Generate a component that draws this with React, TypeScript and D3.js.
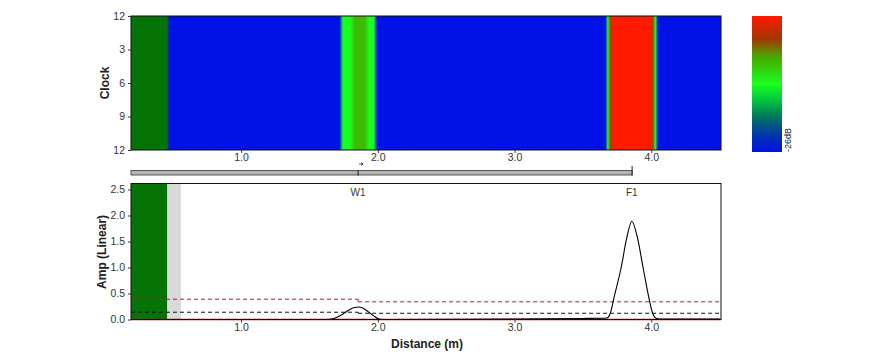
import React, { useRef, useEffect } from 'react';
import * as d3 from 'd3';

// distance axis ticks (m)
const distTicks = [1.0, 2.0, 3.0, 4.0];
// clock positions around the pipe
const clockTicks = [0, 3, 6, 9, 12];
const clockLabels = ['12', '3', '6', '9', '12'];
const ampTicks = [0, 0.5, 1.0, 1.5, 2.0, 2.5];

// dead zone at the start of the scan
const deadZone = [0.195, 0.459];
const nearZone = [0.459, 0.56];

// heat map level along the distance (0 = -26dB, 1 = max)
const heatDist = [0.459, 0.475, 1.72, 1.745, 1.795, 1.835, 1.905, 1.935, 1.97, 1.995, 3.665, 3.682, 3.70, 3.72, 3.995, 4.012, 4.03, 4.05];
const heatLevel = [0.3, 0, 0, 0.5, 0.5, 0.66, 0.66, 0.5, 0.5, 0, 0, 0.5, 0.8, 1, 1, 0.8, 0.5, 0];

// amplitude trace
const ampDist = [0.46, 1.0, 1.62, 1.68, 1.73, 1.78, 1.83, 1.856, 1.89, 1.93, 1.97, 2.01, 2.05, 3.0, 3.5, 3.676, 3.70, 3.73, 3.78, 3.82, 3.858, 3.90, 3.94, 3.98, 4.01, 4.04, 4.08, 4.5];
const ampVal = [0, 0, 0, 0.02, 0.08, 0.17, 0.23, 0.24, 0.22, 0.15, 0.07, 0.01, 0, 0.01, 0.02, 0.03, 0.12, 0.45, 1.0, 1.56, 1.89, 1.56, 1.0, 0.45, 0.12, 0.02, 0.01, 0.01];

// threshold lines (start, end, value)
const redThreshold = [[0.195, 1.856, 0.39], [1.856, 4.5, 0.34]];
const blackThreshold = [[0.195, 1.856, 0.14], [1.856, 4.5, 0.12]];

const features = [{ name: 'W1', dist: 1.856 }, { name: 'F1', dist: 3.858 }];

const colorLevels = [0, 0.12, 0.25, 0.37, 0.5, 0.7, 0.83, 1];
const colorRange = ['#0012e6', '#0035b0', '#007060', '#00c040', '#18ff1e', '#48a800', '#a03800', '#ff1a00'];

const App = () => {
  const ref = useRef(null);

  useEffect(() => {
    const svg = d3.select(ref.current);
    svg.selectAll('*').remove();

    const font = 'Liberation Sans, Arial, sans-serif';
    const left = 131, right = 721;
    const x = d3.scaleLinear().domain([0.195, 4.51]).range([left, right]);
    const yClock = d3.scaleLinear().domain([0, 12]).range([16, 150]);
    const yAmp = d3.scaleLinear().domain([0, 2.615]).range([319.5, 183.5]);
    const color = d3.scaleLinear().domain(colorLevels).range(colorRange);
    const deadColor = '#067306';

    const defs = svg.append('defs');
    const hg = defs.append('linearGradient').attr('id', 'heat')
      .attr('gradientUnits', 'userSpaceOnUse')
      .attr('x1', x(0.195)).attr('x2', x(4.51)).attr('y1', 0).attr('y2', 0);
    const off = d => (x(d) - x(0.195)) / (x(4.51) - x(0.195));
    hg.append('stop').attr('offset', 0).attr('stop-color', deadColor);
    hg.append('stop').attr('offset', off(deadZone[1])).attr('stop-color', deadColor);
    heatDist.slice(1).forEach((d, i) => {
      hg.append('stop')
        .attr('offset', off(d))
        .attr('stop-color', color(heatLevel[i + 1]));
    });
    const cg = defs.append('linearGradient').attr('id', 'cbar')
      .attr('x1', 0).attr('x2', 0).attr('y1', 1).attr('y2', 0);
    colorLevels.forEach(l => {
      cg.append('stop').attr('offset', l).attr('stop-color', color(l));
    });

    // heat map
    svg.append('rect')
      .attr('x', left).attr('y', yClock(0))
      .attr('width', right - left).attr('height', yClock(12) - yClock(0))
      .attr('fill', 'url(#heat)')
      .attr('stroke', '#111').attr('stroke-width', 1);

    const gyc = svg.append('g').attr('transform', `translate(${left},0)`)
      .call(d3.axisLeft(yClock).tickValues(clockTicks).tickFormat((d, i) => clockLabels[i]).tickSize(3));
    const gxc = svg.append('g').attr('transform', `translate(0,${yClock(12)})`)
      .call(d3.axisBottom(x).tickValues(distTicks).tickFormat(d3.format('.1f')).tickSize(3));
    [gyc, gxc].forEach(g => {
      g.select('.domain').remove();
      g.selectAll('text').attr('font-family', font).attr('font-size', 10.5).attr('fill', '#333');
      g.selectAll('line').attr('stroke', '#333');
    });
    gxc.selectAll('text').attr('dy', '0.5em');

    svg.append('text')
      .attr('transform', `translate(109,${yClock(6)}) rotate(-90)`)
      .attr('text-anchor', 'middle')
      .attr('font-family', font).attr('font-weight', 'bold').attr('font-size', 12)
      .attr('fill', '#222')
      .text('Clock');

    // scroll bar
    svg.append('rect')
      .attr('x', left).attr('y', 170.5).attr('width', x(3.86) - left).attr('height', 4.5)
      .attr('fill', '#b4b4b4').attr('stroke', '#555').attr('stroke-width', 1);
    svg.append('line')
      .attr('x1', x(1.856)).attr('x2', x(1.856)).attr('y1', 170).attr('y2', 175.5)
      .attr('stroke', '#222');
    svg.append('line')
      .attr('x1', x(3.86)).attr('x2', x(3.86)).attr('y1', 166).attr('y2', 175.5)
      .attr('stroke', '#222');
    svg.append('path')
      .attr('d', `M${x(1.856) + 1},164 h4 m-2,-1.5 l2,1.5 l-2,1.5`)
      .attr('fill', 'none').attr('stroke', '#222').attr('stroke-width', 0.8);

    // color bar
    svg.append('rect')
      .attr('x', 752).attr('y', 16).attr('width', 30).attr('height', 136)
      .attr('fill', 'url(#cbar)');
    svg.append('text')
      .attr('transform', 'translate(791,152) rotate(-90)')
      .attr('font-family', font).attr('font-size', 9).attr('fill', '#222')
      .text('-26dB');

    // amplitude plot
    const top = yAmp(2.615), h = yAmp(0) - yAmp(2.615);
    svg.append('rect')
      .attr('x', x(nearZone[0])).attr('y', top).attr('width', x(nearZone[1]) - x(nearZone[0])).attr('height', h)
      .attr('fill', '#dadada');
    svg.append('rect')
      .attr('x', left).attr('y', top).attr('width', x(deadZone[1]) - left).attr('height', h)
      .attr('fill', deadColor);

    svg.append('line')
      .attr('x1', left).attr('x2', right).attr('y1', yAmp(0)).attr('y2', yAmp(0))
      .attr('stroke', '#a01010').attr('stroke-width', 1.5);

    const thr = (data, stroke) => {
      data.forEach(([a, b, v]) => {
        svg.append('line')
          .attr('x1', x(a)).attr('x2', x(b)).attr('y1', yAmp(v)).attr('y2', yAmp(v))
          .attr('stroke', stroke).attr('stroke-width', 1).attr('stroke-dasharray', '4,3');
      });
      for (let i = 1; i < data.length; i++) {
        svg.append('line')
          .attr('x1', x(data[i][0])).attr('x2', x(data[i][0]))
          .attr('y1', yAmp(data[i - 1][2])).attr('y2', yAmp(data[i][2]))
          .attr('stroke', stroke).attr('stroke-width', 1);
      }
    };
    thr(redThreshold, '#b81c1c');
    thr(blackThreshold, '#111');

    const line = d3.line()
      .x((d, i) => x(ampDist[i]))
      .y(d => yAmp(d))
      .curve(d3.curveMonotoneX);
    svg.append('path')
      .datum(ampVal)
      .attr('fill', 'none').attr('stroke', '#000').attr('stroke-width', 1.1)
      .attr('d', line);

    svg.append('rect')
      .attr('x', left).attr('y', top).attr('width', right - left).attr('height', h)
      .attr('fill', 'none').attr('stroke', '#111').attr('stroke-width', 1);

    features.forEach(f => {
      svg.append('text')
        .attr('x', x(f.dist)).attr('y', 196)
        .attr('text-anchor', 'middle')
        .attr('font-family', font).attr('font-size', 10).attr('fill', '#333')
        .text(f.name);
    });

    const gya = svg.append('g').attr('transform', `translate(${left},0)`)
      .call(d3.axisLeft(yAmp).tickValues(ampTicks).tickFormat(d3.format('.1f')).tickSize(3));
    const gxa = svg.append('g').attr('transform', `translate(0,${yAmp(0)})`)
      .call(d3.axisBottom(x).tickValues(distTicks).tickFormat(d3.format('.1f')).tickSize(3));
    [gya, gxa].forEach(g => {
      g.select('.domain').remove();
      g.selectAll('text').attr('font-family', font).attr('font-size', 10.5).attr('fill', '#333');
      g.selectAll('line').attr('stroke', '#333');
    });
    gxa.selectAll('text').attr('dy', '0.5em');

    svg.append('text')
      .attr('transform', `translate(106,${yAmp(1.3)}) rotate(-90)`)
      .attr('text-anchor', 'middle')
      .attr('font-family', font).attr('font-weight', 'bold').attr('font-size', 12)
      .attr('fill', '#222')
      .text('Amp (Linear)');

    svg.append('text')
      .attr('x', 427).attr('y', 348)
      .attr('text-anchor', 'middle')
      .attr('font-family', font).attr('font-weight', 'bold').attr('font-size', 12)
      .attr('fill', '#222')
      .text('Distance (m)');
  }, []);

  return (
    <svg ref={ref} width="875" height="355"
      style={{ position: 'absolute', left: 0, top: 0, background: '#fff' }} />
  );
};

export default App;
